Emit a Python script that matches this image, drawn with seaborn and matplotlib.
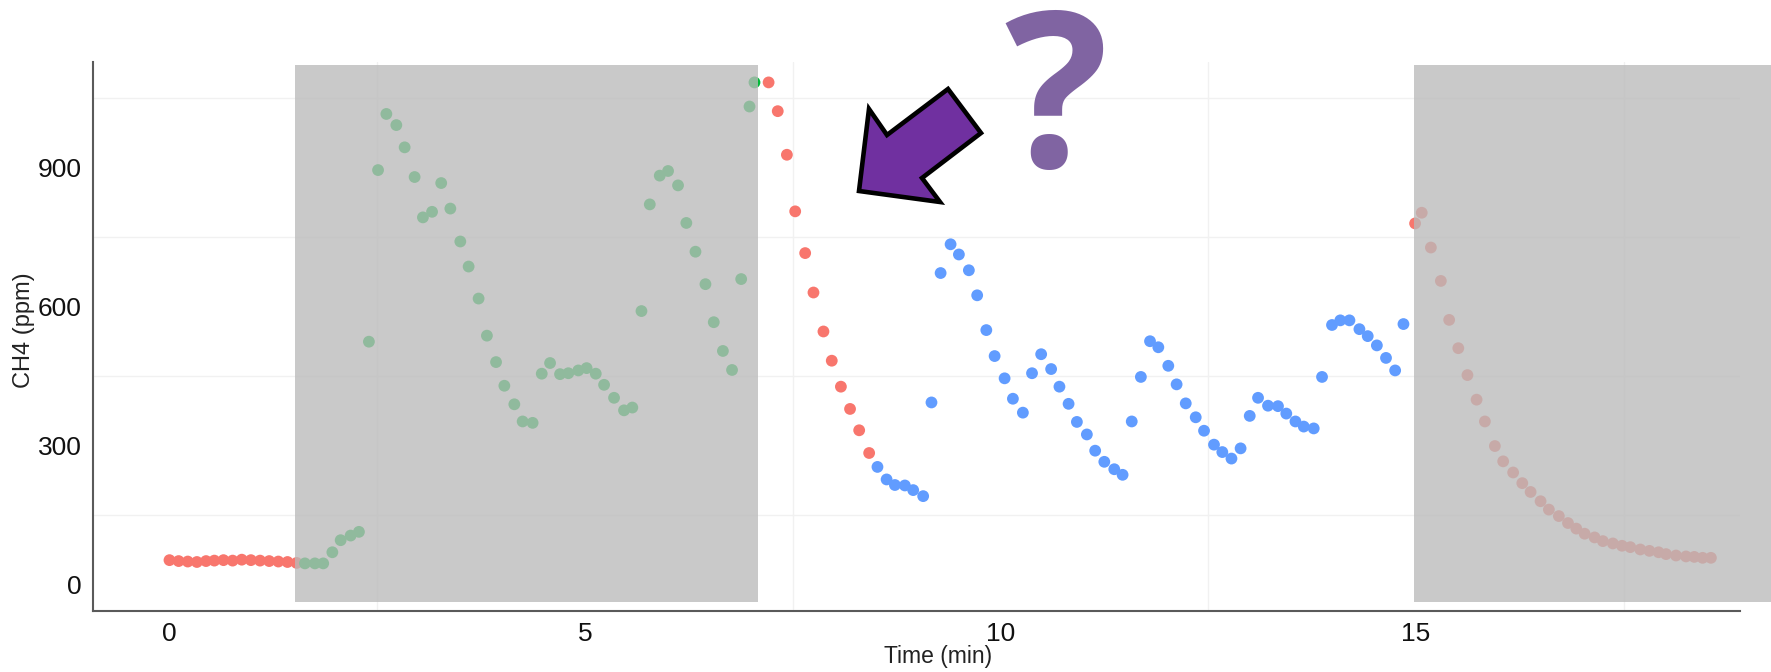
import matplotlib
matplotlib.use("Agg")
import matplotlib.pyplot as plt
import seaborn as sns
import pandas as pd
from matplotlib import font_manager
from matplotlib.patches import Rectangle, Polygon

# ---------------- data ----------------
baseline_time = [0.00, 0.11, 0.22, 0.33, 0.44, 0.54, 0.65, 0.76, 0.87, 0.98,
                 1.09, 1.20, 1.31, 1.42, 1.53]
baseline_ch4 = [53, 51, 50, 49, 51, 52, 53, 52, 54, 53, 52, 51, 50, 49, 47]

first_time = [1.63, 1.75, 1.85, 1.96, 2.06, 2.18, 2.28, 2.40, 2.51, 2.61,
              2.73, 2.83, 2.95, 3.05, 3.16, 3.27, 3.38, 3.50, 3.60, 3.72,
              3.82, 3.93, 4.03, 4.15, 4.25, 4.37, 4.48, 4.58, 4.70, 4.80,
              4.92, 5.02, 5.13, 5.23, 5.35, 5.47, 5.57, 5.68, 5.78, 5.90,
              6.00, 6.12, 6.22, 6.33, 6.45, 6.55, 6.66, 6.77, 6.88, 6.98, 7.04]
first_ch4 = [46, 46, 46, 70, 96, 106, 114, 524, 894, 1015,
             991, 943, 879, 792, 804, 866, 811, 740, 686, 617,
             537, 480, 429, 389, 352, 349, 455, 478, 454, 456,
             462, 467, 455, 431, 403, 376, 382, 590, 820, 882,
             892, 861, 780, 718, 648, 566, 504, 463, 659, 1031, 1083]

decay_time = [7.21, 7.32, 7.43, 7.53, 7.65, 7.75, 7.87, 7.97, 8.08, 8.19,
              8.30, 8.42]
decay_ch4 = [1083, 1021, 927, 805, 715, 630, 546, 483, 427, 379, 333, 284]

second_time = [8.52, 8.63, 8.73, 8.85, 8.95, 9.07, 9.17, 9.28, 9.40, 9.50,
               9.62, 9.72, 9.83, 9.93, 10.05, 10.15, 10.27, 10.38, 10.49, 10.61,
               10.71, 10.82, 10.92, 11.04, 11.14, 11.25, 11.37, 11.47, 11.58, 11.69,
               11.80, 11.90, 12.02, 12.12, 12.23, 12.35, 12.45, 12.57, 12.67, 12.78,
               12.89, 13.00, 13.10, 13.22, 13.34, 13.44, 13.55, 13.65, 13.77, 13.87,
               13.99, 14.09, 14.20, 14.32, 14.42, 14.53, 14.64, 14.75, 14.85]
second_ch4 = [254, 227, 215, 214, 204, 191, 393, 672, 734, 712,
              678, 624, 549, 493, 445, 401, 371, 456, 497, 465,
              427, 390, 351, 324, 289, 265, 249, 237, 352, 448,
              525, 512, 472, 432, 391, 361, 332, 302, 286, 272,
              294, 364, 403, 386, 385, 369, 352, 341, 337, 448,
              560, 570, 570, 551, 536, 516, 489, 462, 562]

tail_time = [14.99, 15.07, 15.18, 15.30, 15.40, 15.51, 15.62, 15.73, 15.83, 15.95,
             16.05, 16.17, 16.28, 16.38, 16.50, 16.60, 16.72, 16.83, 16.93, 17.03,
             17.15, 17.25, 17.37, 17.48, 17.58, 17.70, 17.81, 17.92, 18.01, 18.13,
             18.25, 18.35, 18.45, 18.55]
tail_ch4 = [779, 802, 727, 655, 571, 510, 452, 399, 352, 299,
            266, 242, 219, 200, 180, 162, 148, 133, 121, 110,
            102, 94, 89, 84, 81, 76, 73, 70, 66, 63,
            61, 60, 58, 58]

group_names = ["flush", "chamber A", "chamber B"]
group_colors = ["#F8766D", "#00BA38", "#619CFF"]

x_ticks = [0, 5, 10, 15]
y_ticks = [0, 300, 600, 900]
x_minor = [2.5, 7.5, 12.5, 17.5]
y_minor = [150, 450, 750, 1050]
x_limits = (-0.924, 18.90)
y_limits = (-56, 1127)

# greyed-out windows (time start, time end) and their vertical extent
shaded_windows = [(1.51, 7.08), (14.98, 19.27)]
shade_ch4_range = (-37.3, 1120.6)

x_label = "Time (min)"
y_label = "CH4 (ppm)"
mark_text = "?"

# ---------------- table ----------------
frames = []
for t, v, g in [(baseline_time, baseline_ch4, group_names[0]),
                (first_time, first_ch4, group_names[1]),
                (decay_time, decay_ch4, group_names[0]),
                (second_time, second_ch4, group_names[2]),
                (tail_time, tail_ch4, group_names[0])]:
    frames.append(pd.DataFrame({"time": t, "ch4": v, "group": g}))
df = pd.concat(frames, ignore_index=True)
palette = dict(zip(group_names, group_colors))

# ---------------- fonts ----------------
sns.set_theme(style="white")
names = {f.name for f in font_manager.fontManager.ttflist}
base_font = "Liberation Sans" if "Liberation Sans" in names else "DejaVu Sans"
narrow_font = "Liberation Sans Narrow" if "Liberation Sans Narrow" in names else None
plt.rcParams["font.family"] = [base_font, "DejaVu Sans"]

W, H = 1771, 672
fig = plt.figure(figsize=(W / 100, H / 100), dpi=100)
fig.patch.set_facecolor("white")
ax_l, ax_r, ax_b, ax_t = 92.7, 1740.0, 610.7, 62.0
ax = fig.add_axes([ax_l / W, 1 - ax_b / H, (ax_r - ax_l) / W, (ax_b - ax_t) / H])
ax.set_facecolor("white")

sns.scatterplot(data=df, x="time", y="ch4", hue="group", palette=palette,
                s=72, linewidth=0, legend=False, ax=ax, zorder=3)

ax.set_xlim(*x_limits)
ax.set_ylim(*y_limits)
ax.set_xticks(x_ticks)
ax.set_yticks(y_ticks)
ax.set_xticks(x_minor, minor=True)
ax.set_yticks(y_minor, minor=True)
ax.set_xticklabels([str(v) for v in x_ticks])
ax.set_yticklabels([str(v) for v in y_ticks])
ax.grid(False, which="major")
ax.grid(True, which="minor", color="#F1F1F1", linewidth=1.0, zorder=0)
ax.tick_params(axis="both", which="minor", length=0)
ax.tick_params(axis="both", which="major", length=4.5, width=1.0, color="#6a6a6a",
               labelsize=19, labelcolor="#111111", pad=3.5)
for s in ["top", "right"]:
    ax.spines[s].set_visible(False)
for s in ["left", "bottom"]:
    ax.spines[s].set_color("#5a5a5a")
    ax.spines[s].set_linewidth(1.5)

if narrow_font:
    ax.set_xlabel(x_label, fontsize=18.5, family=[narrow_font, "DejaVu Sans"], color="#222222")
else:
    ax.set_xlabel(x_label, fontsize=16.5, color="#222222")
ax.set_ylabel(y_label, fontsize=17, color="#222222")
ax.xaxis.set_label_coords((938 - ax_l) / (ax_r - ax_l), (ax_b - 645) / (ax_b - ax_t))
ax.yaxis.label.set_va("center")
ax.yaxis.set_label_coords((24 - ax_l) / (ax_r - ax_l), (ax_b - 330) / (ax_b - ax_t))

# grey overlays
for (t0, t1) in shaded_windows:
    ax.add_patch(Rectangle((t0, shade_ch4_range[0]), t1 - t0,
                           shade_ch4_range[1] - shade_ch4_range[0],
                           facecolor=(186 / 255, 186 / 255, 186 / 255), alpha=0.78,
                           edgecolor="none", zorder=5, clip_on=False))

# purple arrow annotation (figure pixel outline)
arrow_px = [(859, 191), (869, 109), (887, 135), (948, 89), (981, 133),
            (922, 178), (940, 202)]
arrow = Polygon([(x / W, 1 - y / H) for x, y in arrow_px], closed=True,
                transform=fig.transFigure, facecolor="#7030A0", edgecolor="black",
                linewidth=3.3, joinstyle="miter", zorder=10)
fig.patches.append(arrow)

fig.text(1056 / W, 1 - 167 / H, mark_text, ha="center", va="baseline",
         fontsize=156, fontweight="bold", color="#8064A2",
         family=["Open Sans", "DejaVu Sans"], zorder=11)

fig.savefig("out.png", dpi=100, facecolor="white")
